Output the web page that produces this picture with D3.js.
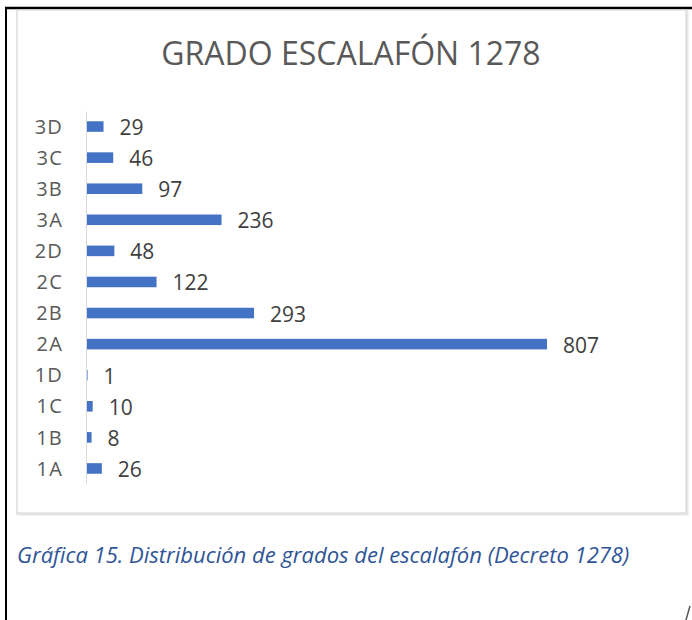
<!DOCTYPE html>
<html>
<head>
<meta charset="utf-8">
<script src="https://cdn.jsdelivr.net/npm/d3@7"></script>
<style>
  body { margin: 0; background: #fff; }
  text { font-family: "Open Sans", Lato, sans-serif; }
</style>
</head>
<body>
<svg id="chart"></svg>
<script>
// Data
const categories = ['3D', '3C', '3B', '3A', '2D', '2C', '2B', '2A', '1D', '1C', '1B', '1A'];
const values = [29, 46, 97, 236, 48, 122, 293, 807, 1, 10, 8, 26];
const title = 'GRADO ESCALAFÓN 1278';
const caption = 'Gráfica 15. Distribución de grados del escalafón (Decreto 1278)';

const data = categories.map((c, i) => ({ name: c, value: values[i] }));

const svgWidth = 692;
const svgHeight = 620;

const svg = d3.select('#chart')
    .attr('width', svgWidth)
    .attr('height', svgHeight);

// Page frame lines
svg.append('line')
    .attr('x1', 6).attr('x2', 6).attr('y1', 7).attr('y2', svgHeight)
    .attr('stroke', '#000').attr('stroke-width', 2);
svg.append('line')
    .attr('x1', 5).attr('x2', svgWidth).attr('y1', 8).attr('y2', 8)
    .attr('stroke', '#000').attr('stroke-width', 2.5);

// Chart box with soft shadow
svg.append('rect')
    .attr('x', 18).attr('y', 12).attr('width', 669).attr('height', 502)
    .attr('fill', 'none').attr('stroke', '#e6e6e6').attr('stroke-width', 3);
svg.append('rect')
    .attr('x', 17).attr('y', 10).attr('width', 669).attr('height', 503)
    .attr('fill', '#fff').attr('stroke', '#d4d4d4').attr('stroke-width', 1);

// Title
svg.append('text')
    .attr('x', 351).attr('y', 65)
    .attr('text-anchor', 'middle')
    .attr('font-size', 32)
    .attr('fill', '#595959')
    .text(title);

// Scales
const xScale = d3.scaleLinear()
    .domain([0, 807])
    .range([87, 547]);

const yScale = d3.scaleBand()
    .domain(categories)
    .range([111, 484])
    .paddingInner(0.66)
    .paddingOuter(0.33);

// Bars
svg.selectAll('.bar')
    .data(data)
    .enter()
    .append('rect')
    .attr('class', 'bar')
    .attr('x', xScale(0))
    .attr('y', d => yScale(d.name))
    .attr('width', d => xScale(d.value) - xScale(0))
    .attr('height', yScale.bandwidth())
    .attr('fill', '#4472C4');

// Value labels
svg.selectAll('.bar-label')
    .data(data)
    .enter()
    .append('text')
    .attr('class', 'bar-label')
    .attr('x', d => xScale(d.value) + 16)
    .attr('y', d => yScale(d.name) + yScale.bandwidth() / 2 + 8.5)
    .attr('font-size', 21)
    .attr('fill', '#404040')
    .text(d => d.value);

// Y axis
const yAxis = svg.append('g')
    .attr('transform', `translate(${xScale(0) - 1}, 0)`)
    .call(d3.axisLeft(yScale).tickSize(0).tickPadding(23));
yAxis.select('.domain').attr('stroke', '#d9d9d9');
yAxis.selectAll('text')
    .style('font-size', '20px')
    .style('font-family', '"Open Sans", Lato, sans-serif')
    .attr('dy', '0.36em')
    .attr('letter-spacing', 1.2)
    .attr('fill', '#595959');

// Caption
svg.append('text')
    .attr('x', 17).attr('y', 563)
    .attr('font-size', 22)
    .attr('font-style', 'italic')
    .attr('fill', '#2F5597')
    .text(caption);

// small mark at bottom-right
svg.append('line')
    .attr('x1', 686).attr('y1', 620).attr('x2', 690).attr('y2', 606)
    .attr('stroke', '#555').attr('stroke-width', 1.5);
</script>
</body>
</html>
